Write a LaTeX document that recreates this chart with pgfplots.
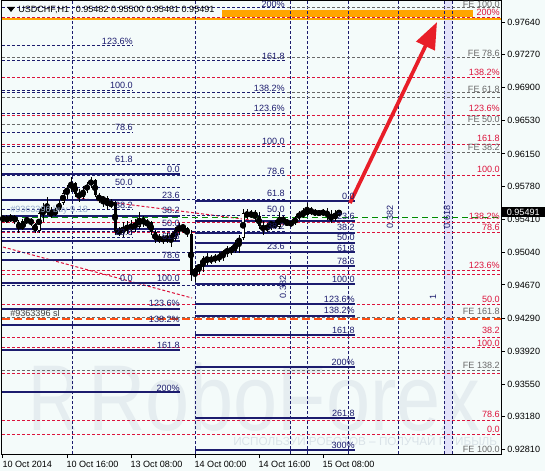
\documentclass[border=0pt]{standalone}
\usepackage{pgfplots}
\usepackage{pgfplotstable}
\pgfplotsset{compat=1.18}
\usepackage{fontspec}
\setmainfont{Liberation Sans}
\usetikzlibrary{arrows.meta}
\definecolor{bg}{RGB}{244,251,250}
\definecolor{fnavy}{RGB}{28,28,110}
\definecolor{fred}{RGB}{220,20,60}
\definecolor{fgray}{RGB}{105,105,105}
\definecolor{fgreen}{RGB}{0,140,0}
\definecolor{slor}{RGB}{255,80,20}
\definecolor{band}{RGB}{226,226,250}
\definecolor{wm}{RGB}{229,237,240}
\definecolor{wm2}{RGB}{218,227,232}
\definecolor{arrowred}{RGB}{232,30,40}
\definecolor{orng}{RGB}{255,165,0}
\definecolor{buyc}{RGB}{150,172,205}

\pgfplotstableread{
i o h l c
0 0.95414 0.95448 0.95380 0.95426
1 0.95426 0.95460 0.95369 0.95392
2 0.95392 0.95471 0.95380 0.95448
3 0.95448 0.95460 0.95358 0.95380
4 0.95380 0.95403 0.95256 0.95301
5 0.95301 0.95414 0.95290 0.95392
6 0.95392 0.95437 0.95358 0.95414
7 0.95414 0.95426 0.95335 0.95358
8 0.95358 0.95369 0.95256 0.95279
9 0.95279 0.95516 0.95256 0.95482
10 0.95482 0.95595 0.95380 0.95550
11 0.95550 0.95663 0.95460 0.95493
12 0.95493 0.95550 0.95426 0.95460
13 0.95460 0.95539 0.95448 0.95516
14 0.95516 0.95629 0.95493 0.95595
15 0.95595 0.95742 0.95572 0.95708
16 0.95708 0.95799 0.95640 0.95765
17 0.95765 0.95889 0.95719 0.95821
18 0.95821 0.95832 0.95663 0.95697
19 0.95697 0.95753 0.95606 0.95663
20 0.95663 0.95787 0.95640 0.95742
21 0.95742 0.95832 0.95708 0.95799
22 0.95799 0.95889 0.95765 0.95855
23 0.95855 0.95866 0.95663 0.95685
24 0.95685 0.95708 0.95595 0.95629
25 0.95629 0.95674 0.95550 0.95652
26 0.95652 0.95674 0.95516 0.95561
27 0.95561 0.95640 0.95539 0.95606
28 0.95606 0.95618 0.95234 0.95279
29 0.95279 0.95324 0.95222 0.95256
30 0.95256 0.95380 0.95211 0.95324
31 0.95324 0.95392 0.95245 0.95301
32 0.95301 0.95403 0.95234 0.95358
33 0.95358 0.95414 0.95267 0.95324
34 0.95324 0.95493 0.95301 0.95426
35 0.95426 0.95448 0.95324 0.95358
36 0.95358 0.95414 0.95313 0.95380
37 0.95380 0.95392 0.95234 0.95267
38 0.95267 0.95290 0.95143 0.95177
39 0.95177 0.95245 0.95143 0.95211
40 0.95211 0.95234 0.95132 0.95166
41 0.95166 0.95256 0.95143 0.95222
42 0.95222 0.95256 0.95098 0.95189
43 0.95189 0.95324 0.95166 0.95290
44 0.95290 0.95369 0.95234 0.95335
45 0.95335 0.95347 0.95256 0.95313
46 0.95313 0.95324 0.95211 0.95245
47 0.95245 0.95290 0.94714 0.94781
48 0.94781 0.94883 0.94703 0.94861
49 0.94861 0.94906 0.94793 0.94883
50 0.94883 0.94996 0.94815 0.94974
51 0.94974 0.95030 0.94895 0.94928
52 0.94928 0.95008 0.94906 0.94985
53 0.94985 0.95019 0.94917 0.94951
54 0.94951 0.95041 0.94928 0.95008
55 0.95008 0.95064 0.94940 0.95030
56 0.95030 0.95109 0.94985 0.95075
57 0.95075 0.95109 0.95008 0.95053
58 0.95053 0.95177 0.95030 0.95143
59 0.95143 0.95234 0.95030 0.95200
60 0.95200 0.95527 0.95177 0.95482
61 0.95482 0.95527 0.95414 0.95448
62 0.95448 0.95516 0.95426 0.95482
63 0.95482 0.95516 0.95380 0.95448
64 0.95448 0.95493 0.95301 0.95335
65 0.95335 0.95392 0.95234 0.95290
66 0.95290 0.95369 0.95267 0.95347
67 0.95347 0.95392 0.95290 0.95369
68 0.95369 0.95403 0.95301 0.95324
69 0.95324 0.95493 0.95301 0.95437
70 0.95437 0.95448 0.95347 0.95380
71 0.95380 0.95414 0.95347 0.95358
72 0.95358 0.95392 0.95335 0.95369
73 0.95369 0.95448 0.95347 0.95426
74 0.95426 0.95505 0.95403 0.95482
75 0.95482 0.95539 0.95426 0.95460
76 0.95460 0.95595 0.95448 0.95527
77 0.95527 0.95550 0.95460 0.95482
78 0.95482 0.95527 0.95448 0.95493
79 0.95493 0.95516 0.95448 0.95471
80 0.95471 0.95527 0.95448 0.95505
81 0.95505 0.95539 0.95403 0.95448
82 0.95448 0.95516 0.95369 0.95414
83 0.95414 0.95516 0.95392 0.95482
84 0.95482 0.95500 0.95461 0.95491
}\candles

\tikzset{
 lab/.style={font=\fontsize{6.8}{8}\selectfont, inner sep=0pt, anchor=east},
 dsh/.style={line width=0.75pt, dash pattern=on 2.25pt off 1.5pt},
}
\newcommand{\lb}[4][fnavy]{\node[lab,text=#1] at (#2,#3) {#4};}

\begin{document}
\begin{tikzpicture}
\path[use as bounding box, fill=bg] (0,0) rectangle (408.75pt,353.25pt);
\begin{scope}[x=0.75pt,y=-0.75pt,shift={(0pt,353.25pt)}]
 \node[anchor=base west, text=wm, font=\fontsize{70}{70}\selectfont, inner sep=0pt, xscale=0.75] at (28,430) {R};
 \node[anchor=base west, text=wm, font=\fontsize{70}{70}\selectfont, inner sep=0pt, xscale=0.85] at (88,430) {RoboForex};
 \node[anchor=base west, text=wm2, font=\fontsize{8.8}{10}\selectfont, inner sep=0pt] at (233,445) {ИСПОЛЬЗУЙ РОБОТОВ – ПОЛУЧАЙ ПРИБЫЛЬ};
\end{scope}
\begin{axis}[
 at={(1.5pt,12.75pt)}, anchor=south west,
 scale only axis, width=374.25pt, height=339.75pt,
 xmin=-0.25, xmax=124.5, ymin=0.92759, ymax=0.97878,
 axis line style={black, line width=0.75pt},
 tick align=outside, major tick length=3pt,
 tick style={black, line width=0.75pt},
 xtick pos=left, ytick pos=right, yticklabel pos=right,
 xtick={0,16,32,48,64,80},
 xticklabels={10 Oct 2014,10 Oct 16:00,13 Oct 08:00,14 Oct 00:00,14 Oct 16:00,15 Oct 08:00},
 ytick={0.92810,0.93180,0.93550,0.93920,0.94290,0.94670,0.95040,0.95410,0.95780,0.96150,0.96530,0.96900,0.97270,0.97640},
 scaled y ticks=false,
 y tick label style={/pgf/number format/fixed, /pgf/number format/fixed zerofill, /pgf/number format/precision=5, /pgf/number format/assume math mode=true},
 tick label style={font=\fontsize{6.8}{8}\selectfont, black},
 xticklabel style={anchor=north west, inner sep=0pt, xshift=-0.5pt, yshift=-2pt},
 yticklabel style={anchor=west, inner sep=0pt, xshift=1.5pt},
 unbounded coords=jump,
]
% lavender band
\addplot[fill=band, draw=none, forget plot] coordinates {(110.25,0.92759) (112.25,0.92759) (112.25,0.97878) (110.25,0.97878)} -- cycle;
% orange band at top
\addplot[fill=orng, draw=none, forget plot] coordinates {(54.75,0.97776) (117.5,0.97776) (117.5,0.97697) (54.75,0.97697)} -- cycle;
\addplot[orng, line width=0.9pt, forget plot] coordinates {(-0.25,0.97674) (124.5,0.97674)};
% vertical dashed lines
\addplot[fnavy, dsh, forget plot] coordinates {
(17.25,0.92759) (17.25,0.97878) (17.25,nan)
(48,0.92759) (48,0.97878) (48,nan)
(71.75,0.92759) (71.75,0.97878) (71.75,nan)
(76,0.92759) (76,0.97878) (76,nan)
(86.25,0.92759) (86.25,0.97878) (86.25,nan)
(98.75,0.92759) (98.75,0.97878) (98.75,nan)
(110.25,0.92759) (110.25,0.97878) (110.25,nan)
(112.25,0.92759) (112.25,0.97878)};
% gray FE lines
\addplot[fgray, dsh, forget plot] coordinates {
(-0.25,0.97810) (124.5,0.97810) (0,nan)
(-0.25,0.97234) (124.5,0.97234) (0,nan)
(-0.25,0.96849) (124.5,0.96849) (0,nan)
(-0.25,0.96793) (124.5,0.96793) (0,nan)
(-0.25,0.96477) (124.5,0.96477) (0,nan)
(-0.25,0.96171) (124.5,0.96171) (0,nan)
(-0.25,0.94307) (124.5,0.94307) (0,nan)
(-0.25,0.93697) (124.5,0.93697)};
% red fib lines
\addplot[fred, dsh, forget plot] coordinates {
(-0.25,0.97697) (124.5,0.97697) (0,nan)
(-0.25,0.97019) (124.5,0.97019) (0,nan)
(-0.25,0.96589) (124.5,0.96589) (0,nan)
(-0.25,0.96262) (124.5,0.96262) (0,nan)
(-0.25,0.95911) (124.5,0.95911) (0,nan)
(-0.25,0.95380) (124.5,0.95380) (0,nan)
(-0.25,0.95267) (124.5,0.95267) (0,nan)
(-0.25,0.94827) (124.5,0.94827) (0,nan)
(-0.25,0.94793) (124.5,0.94793) (0,nan)
(-0.25,0.94443) (124.5,0.94443) (0,nan)
(-0.25,0.94081) (124.5,0.94081) (0,nan)
(-0.25,0.93957) (124.5,0.93957) (0,nan)
(-0.25,0.93674) (124.5,0.93674) (0,nan)
(-0.25,0.93132) (124.5,0.93132) (0,nan)
(-0.25,0.92985) (124.5,0.92985)};
% red dashed trend lines
\addplot[fred, dsh, forget plot] coordinates {(18.5,0.95652) (71.75,0.95347) (0,nan) (0,0.95098) (47.25,0.94522)};
% left dashed fib
\addplot[fnavy, dsh, forget plot] coordinates {
(-0.25,0.94691) (32.5,0.94691) (0,nan)
(-0.25,0.95203) (32.5,0.95203) (0,nan)
(-0.25,0.95520) (32.5,0.95520) (0,nan)
(-0.25,0.95776) (44.25,0.95776) (0,nan)
(-0.25,0.96032) (44.25,0.96032) (0,nan)
(-0.25,0.96397) (32.5,0.96397) (0,nan)
(-0.25,0.96861) (32.5,0.96861) (0,nan)
(-0.25,0.97373) (32.5,0.97373)};
% middle dashed fib
\addplot[fnavy, dsh, forget plot] coordinates {
(-0.25,0.94668) (70.5,0.94668) (0,nan)
(-0.25,0.95039) (70.5,0.95039) (0,nan)
(-0.25,0.95268) (70.5,0.95268) (0,nan)
(-0.25,0.95454) (70.5,0.95454) (0,nan)
(-0.25,0.95639) (70.5,0.95639) (0,nan)
(-0.25,0.95903) (70.5,0.95903) (0,nan)
(-0.25,0.96239) (70.5,0.96239) (0,nan)
(-0.25,0.96610) (70.5,0.96610) (0,nan)
(-0.25,0.96839) (70.5,0.96839) (0,nan)
(-0.25,0.97210) (70.5,0.97210) (0,nan)
(-0.25,0.97810) (70.5,0.97810)};
% green order line
\addplot[fgreen, line width=0.75pt, dash pattern=on 4.5pt off 3pt, forget plot] coordinates {(-0.25,0.95437) (124.5,0.95437)};
% stop loss line
\addplot[slor, line width=1.1pt, dash pattern=on 6pt off 3pt, forget plot] coordinates {(-0.25,0.94284) (124.5,0.94284)};
% left thick fib
\addplot[fnavy, line width=1.5pt, forget plot] coordinates {
(-0.25,0.95923) (44.25,0.95923) (0,nan)
(-0.25,0.95632) (44.25,0.95632) (0,nan)
(-0.25,0.95453) (44.25,0.95453) (0,nan)
(-0.25,0.95307) (44.25,0.95307) (0,nan)
(-0.25,0.95161) (44.25,0.95161) (0,nan)
(-0.25,0.94954) (44.25,0.94954) (0,nan)
(-0.25,0.94691) (44.25,0.94691) (0,nan)
(-0.25,0.94401) (44.25,0.94401) (0,nan)
(-0.25,0.94221) (44.25,0.94221) (0,nan)
(-0.25,0.93929) (44.25,0.93929) (0,nan)
(-0.25,0.93459) (44.25,0.93459)};
% right thick fib
\addplot[fnavy, line width=1.5pt, forget plot] coordinates {
(48,0.95618) (88,0.95618) (0,nan)
(48,0.95397) (88,0.95397) (0,nan)
(48,0.95260) (88,0.95260) (0,nan)
(48,0.95149) (88,0.95149) (0,nan)
(48,0.95038) (88,0.95038) (0,nan)
(48,0.94881) (88,0.94881) (0,nan)
(48,0.94680) (88,0.94680) (0,nan)
(48,0.94459) (88,0.94459) (0,nan)
(48,0.94322) (88,0.94322) (0,nan)
(48,0.94100) (88,0.94100) (0,nan)
(48,0.93742) (88,0.93742) (0,nan)
(48,0.93162) (88,0.93162) (0,nan)
(48,0.92804) (88,0.92804)};
% candles: wicks
\addplot[only marks, mark=none, forget plot, error bars/.cd, y dir=both, y explicit, error mark=none,
  error bar style={draw=black, solid, line width=0.75pt}]
  table[x=i, y expr=(\thisrow{h}+\thisrow{l})/2, y error expr=(\thisrow{h}-\thisrow{l})/2] {\candles};
% candles: bodies
\addplot[only marks, mark=none, forget plot, error bars/.cd, y dir=both, y explicit, error mark=none,
  error bar style={draw=black, solid, line width=2.25pt}]
  table[x=i, y expr=(\thisrow{o}+\thisrow{c})/2, y error expr={max(abs(\thisrow{c}-\thisrow{o})/2,0.00006)}] {\candles};
% candles: white interiors of rising bars
\addplot[only marks, mark=none, forget plot, error bars/.cd, y dir=both, y explicit, error mark=none,
  error bar style={draw=white, solid, line width=0.8pt}]
  table[x=i, y expr=(\thisrow{o}+\thisrow{c})/2, y error expr={max((\thisrow{c}-\thisrow{o})/2-0.0001,0)}] {\candles};
% red arrow
\addplot[arrowred, line width=2.8pt, -{Triangle[length=20pt,width=15pt]}, forget plot] coordinates {(86.75,0.95595) (108.5,0.97640)};
\end{axis}
\begin{scope}[x=0.75pt,y=-0.75pt,shift={(0pt,353.25pt)}]
 % title
 \fill[black] (7,7) -- (15,7) -- (11,12) -- cycle;
 \node[lab, anchor=west, text=black] at (18,10) {USDCHF,H1\hspace{5pt}0.95482 0.95500 0.95461 0.95491};
 % left thick fib labels
 \lb{180}{169}{0.0} \lb{180}{195}{23.6} \lb{180}{210}{38.2} \lb{180}{223}{50.0}
 \lb{180}{236}{61.8} \lb{180}{255}{78.6} \lb{180}{278}{100.0} \lb{180}{303}{123.6\%}
 \lb{180}{319}{138.2\%} \lb{180}{345}{161.8} \lb{180}{388}{200\%}
 % right thick fib labels
 \lb{355}{196}{0.0} \lb{355}{216}{23.6} \lb{355}{227}{38.2} \lb{355}{237}{50.0}
 \lb{355}{248}{61.8} \lb{355}{261}{78.6} \lb{355}{279}{100.0} \lb{355}{299}{123.6\%}
 \lb{355}{310}{138.2\%} \lb{355}{330}{161.8} \lb{355}{362}{200\%} \lb{355}{413}{261.8}
 \lb{355}{445}{300\%}
 % middle dashed fib labels
 \lb{285}{4}{200\%} \lb{285}{56}{161.8} \lb{285}{88}{138.2\%} \lb{285}{108}{123.6\%}
 \lb{285}{141}{100.0} \lb{285}{171}{78.6} \lb{285}{193}{61.8} \lb{285}{209}{50.0}
 \lb{285}{226}{38.2} \lb{285}{246}{23.6}
 % left dashed fib labels
 \lb{133}{41}{123.6\%} \lb{133}{85}{100.0} \lb{133}{127}{78.6} \lb{133}{159}{61.8}
 \lb{133}{182}{50.0} \lb{133}{205}{38.2} \lb{133}{232}{23.6} \lb{133}{278}{0.0}
 % red labels on right
 \lb[fred]{500}{12}{200\%} \lb[fred]{500}{72}{138.2\%} \lb[fred]{500}{108}{123.6\%}
 \lb[fred]{500}{138}{161.8} \lb[fred]{500}{169}{100.0} \lb[fred]{500}{216}{138.2\%}
 \lb[fred]{500}{227}{78.6} \lb[fred]{500}{265}{123.6\%} \lb[fred]{500}{299}{50.0}
 \lb[fred]{500}{330}{38.2} \lb[fred]{500}{343}{100.0} \lb[fred]{500}{414}{78.6}
 \lb[fred]{500}{429}{0.0}
 % gray FE labels
 \lb[fgray]{500}{4}{FE 100.0} \lb[fgray]{500}{53}{FE 78.6} \lb[fgray]{500}{89}{FE 61.8}
 \lb[fgray]{500}{119}{FE 50.0} \lb[fgray]{500}{147}{FE 38.2} \lb[fgray]{500}{311}{FE 161.8}
 \lb[fgray]{500}{365}{FE 138.2} \lb[fgray]{500}{449}{FE 100.0}
 % rotated labels
 \node[lab, anchor=center, text=fnavy, rotate=90] at (390,217) {0.382};
 \node[lab, anchor=center, text=fnavy, rotate=90] at (447,217) {0.618};
 \node[lab, anchor=center, text=fnavy, rotate=90] at (283,287) {0.382};
 \node[lab, anchor=center, text=fnavy, rotate=90] at (433,297) {1};
 % order texts
 \node[lab, anchor=west, text=buyc] at (10,210) {\#9363396 buy 9.18};
 \node[lab, anchor=west, text=black!75] at (10,313) {\#9363396 sl};
 % current price box
 \node[lab, anchor=west, fill=black, text=white, inner xsep=2pt, inner ysep=1.5pt, minimum width=33pt] at (501,212) {0.95491};
\end{scope}
\end{tikzpicture}
\end{document}
